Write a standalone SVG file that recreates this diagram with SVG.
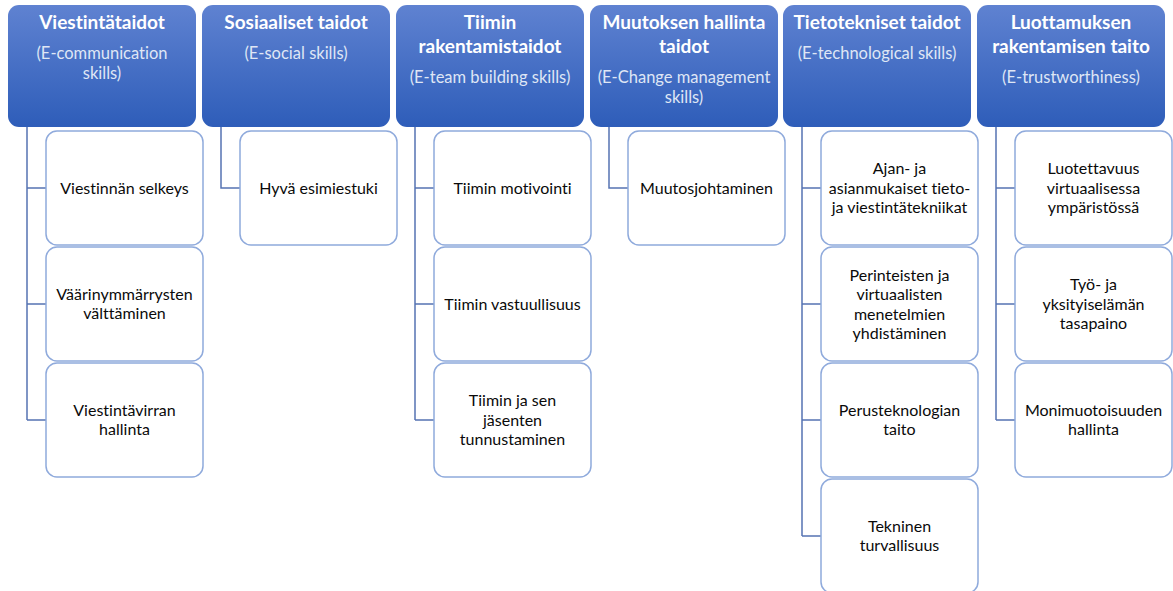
<svg xmlns="http://www.w3.org/2000/svg" width="1173" height="591" viewBox="0 0 1173 591">
  <defs>
    <linearGradient id="hdrFill" x1="0" y1="0" x2="0" y2="1">
      <stop offset="0" stop-color="#5f82d1"/>
      <stop offset="1" stop-color="#2e5db9"/>
    </linearGradient>
    <style>
      text { font-variant-ligatures: none; }
      .hdr { fill: url(#hdrFill); }
      .ttl { font-family: Lato, "Liberation Sans", sans-serif; font-weight: 700; font-size: 19px; fill: #ffffff; text-anchor: middle; }
      .sub { font-family: Lato, "Liberation Sans", sans-serif; font-size: 16.5px; fill: #dfe6f5; text-anchor: middle; }
      .box { fill: #ffffff; stroke: #8faadc; stroke-width: 1.5; }
      .lbl { font-family: Lato, "Liberation Sans", sans-serif; font-size: 16px; fill: #0a0a0a; text-anchor: middle; }
      .wire { fill: none; stroke: #5573b3; stroke-width: 1.5; }
    </style>
  </defs>
  <rect width="1173" height="591" fill="#ffffff"/>

  <!-- connectors: a spine under each header with a branch to each child -->
  <g id="connectors" class="wire">
    <path d="M27,127 V420 M27,188 H46 M27,304 H46 M27,420 H46"/>
    <path d="M221,127 V188 H240"/>
    <path d="M415,127 V420 M415,188 H434 M415,304 H434 M415,420 H434"/>
    <path d="M609,127 V188 H628"/>
    <path d="M802,127 V536 M802,188 H821 M802,304 H821 M802,420 H821 M802,536 H821"/>
    <path d="M996,127 V420 M996,188 H1015 M996,304 H1015 M996,420 H1015"/>
  </g>

  <!-- column 1 -->
  <g id="h1">
    <rect class="hdr" x="8" y="5" width="188" height="122" rx="11"/>
    <text class="ttl" x="102" y="29">Viestintätaidot</text>
    <text class="sub" x="102" y="59">(E-communication</text>
    <text class="sub" x="102" y="79">skills)</text>
  </g>
  <g id="c1a">
    <rect class="box" x="46" y="131" width="157" height="114" rx="11"/>
    <text class="lbl" x="124.5" y="193.5">Viestinnän selkeys</text>
  </g>
  <g id="c1b">
    <rect class="box" x="46" y="247" width="157" height="114" rx="11"/>
    <text class="lbl" x="124.5" y="299.5">Väärinymmärrysten</text>
    <text class="lbl" x="124.5" y="319">välttäminen</text>
  </g>
  <g id="c1c">
    <rect class="box" x="46" y="363" width="157" height="114" rx="11"/>
    <text class="lbl" x="124.5" y="415.5">Viestintävirran</text>
    <text class="lbl" x="124.5" y="435">hallinta</text>
  </g>

  <!-- column 2 -->
  <g id="h2">
    <rect class="hdr" x="202" y="5" width="188" height="122" rx="11"/>
    <text class="ttl" x="296" y="29">Sosiaaliset taidot</text>
    <text class="sub" x="296" y="59">(E-social skills)</text>
  </g>
  <g id="c2a">
    <rect class="box" x="240" y="131" width="157" height="114" rx="11"/>
    <text class="lbl" x="318.5" y="193.5">Hyvä esimiestuki</text>
  </g>

  <!-- column 3 -->
  <g id="h3">
    <rect class="hdr" x="396" y="5" width="188" height="122" rx="11"/>
    <text class="ttl" x="490" y="29">Tiimin</text>
    <text class="ttl" x="490" y="53">rakentamistaidot</text>
    <text class="sub" x="490" y="83">(E-team building skills)</text>
  </g>
  <g id="c3a">
    <rect class="box" x="434" y="131" width="157" height="114" rx="11"/>
    <text class="lbl" x="512.5" y="193.5">Tiimin motivointi</text>
  </g>
  <g id="c3b">
    <rect class="box" x="434" y="247" width="157" height="114" rx="11"/>
    <text class="lbl" x="512.5" y="309.5">Tiimin vastuullisuus</text>
  </g>
  <g id="c3c">
    <rect class="box" x="434" y="363" width="157" height="114" rx="11"/>
    <text class="lbl" x="512.5" y="406">Tiimin ja sen</text>
    <text class="lbl" x="512.5" y="425.5">jäsenten</text>
    <text class="lbl" x="512.5" y="445">tunnustaminen</text>
  </g>

  <!-- column 4 -->
  <g id="h4">
    <rect class="hdr" x="590" y="5" width="188" height="122" rx="11"/>
    <text class="ttl" x="684" y="29">Muutoksen hallinta</text>
    <text class="ttl" x="684" y="53">taidot</text>
    <text class="sub" x="684" y="83">(E-Change management</text>
    <text class="sub" x="684" y="103">skills)</text>
  </g>
  <g id="c4a">
    <rect class="box" x="628" y="131" width="157" height="114" rx="11"/>
    <text class="lbl" x="706.5" y="193.5">Muutosjohtaminen</text>
  </g>

  <!-- column 5 -->
  <g id="h5">
    <rect class="hdr" x="783" y="5" width="188" height="122" rx="11"/>
    <text class="ttl" x="877" y="29">Tietotekniset taidot</text>
    <text class="sub" x="877" y="59">(E-technological skills)</text>
  </g>
  <g id="c5a">
    <rect class="box" x="821" y="131" width="157" height="114" rx="11"/>
    <text class="lbl" x="899.5" y="174">Ajan- ja</text>
    <text class="lbl" x="899.5" y="193.5">asianmukaiset tieto-</text>
    <text class="lbl" x="899.5" y="213">ja viestintätekniikat</text>
  </g>
  <g id="c5b">
    <rect class="box" x="821" y="247" width="157" height="114" rx="11"/>
    <text class="lbl" x="899.5" y="280.5">Perinteisten ja</text>
    <text class="lbl" x="899.5" y="300">virtuaalisten</text>
    <text class="lbl" x="899.5" y="319.5">menetelmien</text>
    <text class="lbl" x="899.5" y="339">yhdistäminen</text>
  </g>
  <g id="c5c">
    <rect class="box" x="821" y="363" width="157" height="114" rx="11"/>
    <text class="lbl" x="899.5" y="415.5">Perusteknologian</text>
    <text class="lbl" x="899.5" y="435">taito</text>
  </g>
  <g id="c5d">
    <rect class="box" x="821" y="479" width="157" height="114" rx="11"/>
    <text class="lbl" x="899.5" y="531.5">Tekninen</text>
    <text class="lbl" x="899.5" y="551">turvallisuus</text>
  </g>

  <!-- column 6 -->
  <g id="h6">
    <rect class="hdr" x="977" y="5" width="188" height="122" rx="11"/>
    <text class="ttl" x="1071" y="29">Luottamuksen</text>
    <text class="ttl" x="1071" y="53">rakentamisen taito</text>
    <text class="sub" x="1071" y="83">(E-trustworthiness)</text>
  </g>
  <g id="c6a">
    <rect class="box" x="1015" y="131" width="157" height="114" rx="11"/>
    <text class="lbl" x="1093.5" y="174">Luotettavuus</text>
    <text class="lbl" x="1093.5" y="193.5">virtuaalisessa</text>
    <text class="lbl" x="1093.5" y="213">ympäristössä</text>
  </g>
  <g id="c6b">
    <rect class="box" x="1015" y="247" width="157" height="114" rx="11"/>
    <text class="lbl" x="1093.5" y="290">Työ- ja</text>
    <text class="lbl" x="1093.5" y="309.5">yksityiselämän</text>
    <text class="lbl" x="1093.5" y="329">tasapaino</text>
  </g>
  <g id="c6c">
    <rect class="box" x="1015" y="363" width="157" height="114" rx="11"/>
    <text class="lbl" x="1093.5" y="415.5">Monimuotoisuuden</text>
    <text class="lbl" x="1093.5" y="435">hallinta</text>
  </g>
</svg>
